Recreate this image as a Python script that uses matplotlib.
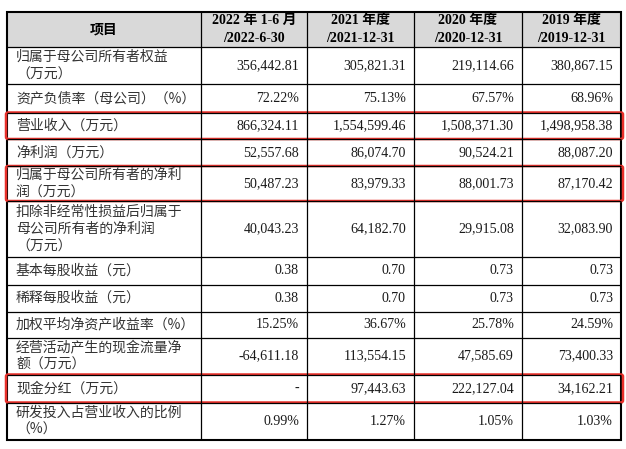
import matplotlib.pyplot as plt
from matplotlib.patches import Rectangle, FancyBboxPatch

# Table content
header_first = "项目"
col_headers = ["2022 年 1-6 月\n/2022-6-30", "2021 年度\n/2021-12-31",
               "2020 年度\n/2020-12-31", "2019 年度\n/2019-12-31"]
row_labels = [
    "归属于母公司所有者权益\n（万元）",
    "资产负债率（母公司）（%）",
    "营业收入（万元）",
    "净利润（万元）",
    "归属于母公司所有者的净利\n润（万元）",
    "扣除非经常性损益后归属于\n母公司所有者的净利润\n（万元）",
    "基本每股收益（元）",
    "稀释每股收益（元）",
    "加权平均净资产收益率（%）",
    "经营活动产生的现金流量净\n额（万元）",
    "现金分红（万元）",
    "研发投入占营业收入的比例\n（%）",
]
h1_2022 = ["356,442.81", "72.22%", "866,324.11", "52,557.68", "50,487.23", "40,043.23",
           "0.38", "0.38", "15.25%", "-64,611.18", "-", "0.99%"]
y2021 = ["305,821.31", "75.13%", "1,554,599.46", "86,074.70", "83,979.33", "64,182.70",
         "0.70", "0.70", "36.67%", "113,554.15", "97,443.63", "1.27%"]
y2020 = ["219,114.66", "67.57%", "1,508,371.30", "90,524.21", "88,001.73", "29,915.08",
         "0.73", "0.73", "25.78%", "47,585.69", "222,127.04", "1.05%"]
y2019 = ["380,867.15", "68.96%", "1,498,958.38", "88,087.20", "87,170.42", "32,083.90",
         "0.73", "0.73", "24.59%", "73,400.33", "34,162.21", "1.03%"]
highlight_rows = [2, 4, 10]

# layout (pixels)
col_edges = [7, 200.5, 307, 414, 522, 621]
row_edges = [11.5, 47, 84, 112.5, 139, 166, 201, 257, 284.5, 311.5, 337.5, 374.5, 402.5, 440]
line_gap = 17.5

cjk = ['Noto Sans CJK SC', 'DejaVu Sans']
mixed = ['Liberation Serif', 'Noto Sans CJK SC']
fs = 10

fig = plt.figure(figsize=(6.26, 4.49), dpi=100)
ax = fig.add_axes([0, 0, 1, 1])
ax.set_xlim(0, 626)
ax.set_ylim(449, 0)
ax.axis('off')

# header background
ax.add_patch(Rectangle((col_edges[0], row_edges[0]), col_edges[-1] - col_edges[0],
                       row_edges[1] - row_edges[0], facecolor='#d9d9d9', edgecolor='none'))

# grid lines
for y in row_edges[1:-1]:
    ax.plot([col_edges[0], col_edges[-1]], [y, y], color='black', lw=0.9, solid_capstyle='butt')
for x in col_edges[1:-1]:
    ax.plot([x, x], [row_edges[0], row_edges[-1]], color='black', lw=0.9, solid_capstyle='butt')
ax.add_patch(Rectangle((col_edges[0], row_edges[0]), col_edges[-1] - col_edges[0],
                       row_edges[-1] - row_edges[0], facecolor='none', edgecolor='black', lw=1.5))

# header text
ax.text((col_edges[0] + col_edges[1]) / 2, (row_edges[0] + row_edges[1]) / 2, header_first,
        ha='center', va='center', fontsize=fs, fontweight='bold', family=cjk, color='black')
hy = (row_edges[0] + row_edges[1]) / 2
for j, h in enumerate(col_headers):
    xc = (col_edges[j + 1] + col_edges[j + 2]) / 2
    parts = h.split('\n')
    for k, p in enumerate(parts):
        yy = hy + (k - (len(parts) - 1) / 2) * line_gap
        ax.text(xc, yy, p, ha='center', va='center', fontsize=fs, fontweight='bold',
                family=mixed, color='black')

# body
columns = [h1_2022, y2021, y2020, y2019]
for i, label in enumerate(row_labels):
    yc = (row_edges[i + 1] + row_edges[i + 2]) / 2
    parts = label.split('\n')
    for k, p in enumerate(parts):
        yy = yc + (k - (len(parts) - 1) / 2) * line_gap
        ax.text(16, yy, p, ha='left', va='center', fontsize=fs, family=cjk, color='#333333')
    for j, col in enumerate(columns):
        ax.text(col_edges[j + 2] - 8, yc, col[i], ha='right', va='center', fontsize=10.1,
                family=mixed, color='#1a1a1a')

# red highlight boxes
for i in highlight_rows:
    y0 = row_edges[i + 1]
    y1 = row_edges[i + 2]
    ax.add_patch(FancyBboxPatch((6, y0), 617, y1 - y0, boxstyle='round,pad=0,rounding_size=2',
                                facecolor='none', edgecolor='#e8312b', lw=1.8))

fig.savefig("out.png", dpi=100)
